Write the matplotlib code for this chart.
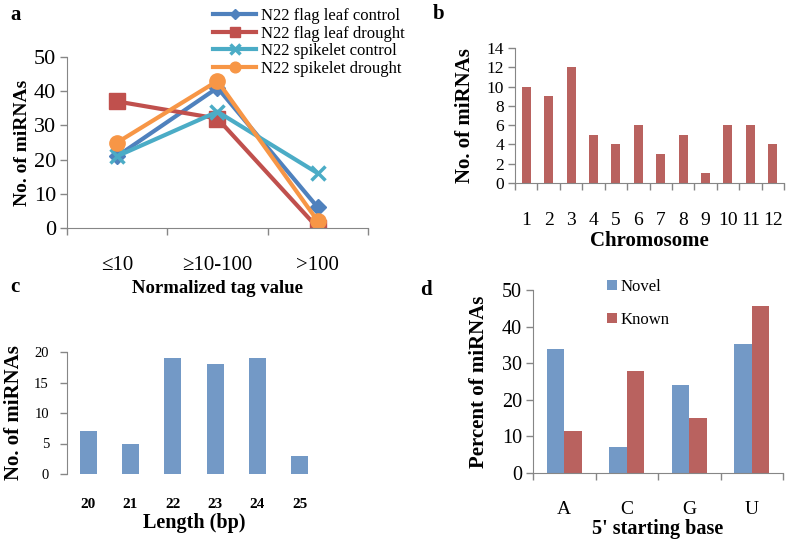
import numpy as np
import matplotlib
matplotlib.use('Agg')
import matplotlib.pyplot as plt

plt.rcParams['font.family'] = ['Liberation Serif', 'DejaVu Serif']

# panel a data
tag_bins = ['≤10', '≥10-100', '>100']
flag_control = [21, 41, 6]
flag_drought = [37, 32, 0]
spike_control = [21, 34, 16]
spike_drought = [25, 43, 2]

# panel b data
chromosomes = [str(i) for i in range(1, 13)]
chrom_counts = [10, 9, 12, 5, 4, 6, 3, 5, 1, 6, 6, 4]

# panel c data
lengths = ['20', '21', '22', '23', '24', '25']
length_counts = [7, 5, 19, 18, 19, 3]

# panel d data
bases = ['A', 'C', 'G', 'U']
novel_pct = [34, 7, 24, 35.2]
known_pct = [11.5, 28, 15, 45.6]

W, H = 787, 539
fig = plt.figure(figsize=(W / 100, H / 100), dpi=100)


def px_axes(left, right, top, bottom):
    return fig.add_axes([left / W, 1 - bottom / H, (right - left) / W, (bottom - top) / H])


grey = '#868686'


def style(ax, bottom=True):
    for s in ['top', 'right']:
        ax.spines[s].set_visible(False)
    ax.spines['left'].set_color(grey)
    ax.spines['bottom'].set_color(grey)
    ax.spines['bottom'].set_visible(bottom)
    ax.tick_params(axis='both', which='major', color=grey, length=5, width=1)
    ax.tick_params(axis='x', which='minor', length=0)


def between_ticks(ax, labels, size, weight='normal', pad=4):
    n = len(labels)
    ax.set_xlim(-0.5, n - 0.5)
    ax.set_xticks(np.arange(-0.5, n, 1.0))
    ax.set_xticklabels([])
    ax.set_xticks(np.arange(n), minor=True)
    ax.set_xticklabels(labels, minor=True, fontsize=size, fontweight=weight)
    ax.tick_params(axis='x', which='minor', pad=pad)


# ---- a ----
ax = px_axes(67, 368, 57, 228)
x = np.arange(len(tag_bins))
ax.plot(x, flag_control, color='#4F81BD', lw=3, marker='D', ms=8, label='N22 flag leaf control')
ax.plot(x, flag_drought, color='#C0504D', lw=3, marker='s', ms=11, label='N22 flag leaf drought')
ax.plot(x, spike_control, color='#4BACC6', lw=3, marker='x', ms=10, mew=2.5, label='N22 spikelet control')
ax.plot(x, spike_drought, color='#F79646', lw=3, marker='o', ms=11, label='N22 spikelet drought')
ax.set_ylim(0, 50)
ax.set_yticks(range(0, 51, 10))
ax.tick_params(axis='y', labelsize=16, pad=3)
style(ax)
between_ticks(ax, tag_bins, 15, pad=20)
ax.set_xlabel('Normalized tag value', fontsize=13.5, fontweight='bold', labelpad=4)
ax.set_ylabel('No. of miRNAs', fontsize=14, fontweight='bold', labelpad=2)
ax.legend(loc='upper left', bbox_to_anchor=(213 / W, 1 - 8 / H), bbox_transform=fig.transFigure,
          frameon=False, fontsize=12, handlelength=2.6, labelspacing=0.1, handletextpad=0.3,
          borderpad=0, borderaxespad=0, markerscale=0.7)
fig.text(10 / W, 1 - 15 / H, 'a', fontsize=15, fontweight='bold', va='center')

# ---- b ----
ax = px_axes(515, 784, 48, 183)
ax.bar(np.arange(len(chromosomes)), chrom_counts, width=0.4, color='#B9625F')
ax.set_ylim(0, 14)
ax.set_yticks(range(0, 15, 2))
ax.tick_params(axis='y', labelsize=12.5, pad=3)
style(ax)
between_ticks(ax, chromosomes, 14, pad=21)
ax.set_xlabel('Chromosome', fontsize=15, fontweight='bold', labelpad=1)
ax.set_ylabel('No. of miRNAs', fontsize=15, fontweight='bold', labelpad=8)
fig.text(433 / W, 1 - 14 / H, 'b', fontsize=15, fontweight='bold', va='center')

# ---- c ----
ax = px_axes(67, 321, 352, 474)
ax.bar(np.arange(len(lengths)), length_counts, width=0.4, color='#7399C6')
ax.set_ylim(0, 20)
ax.set_yticks(range(0, 21, 5))
ax.tick_params(axis='y', labelsize=10.5, pad=8)
style(ax, bottom=False)
ax.set_xlim(-0.5, len(lengths) - 0.5)
ax.set_xticks(np.arange(len(lengths)))
ax.set_xticklabels(lengths, fontsize=11, fontweight='bold')
ax.tick_params(axis='x', length=0, pad=17)
ax.set_xlabel('Length (bp)', fontsize=14.5, fontweight='bold', labelpad=2)
ax.set_ylabel('No. of miRNAs', fontsize=15, fontweight='bold', labelpad=7)
fig.text(10 / W, 1 - 287 / H, 'c', fontsize=15, fontweight='bold', va='center')

# ---- d ----
ax = px_axes(533, 783, 290, 473)
xb = np.arange(len(bases))
bw = 0.28
ax.bar(xb - bw / 2, novel_pct, width=bw, color='#7399C6', label='Novel')
ax.bar(xb + bw / 2, known_pct, width=bw, color='#B9625F', label='Known')
ax.set_ylim(0, 50)
ax.set_yticks(range(0, 51, 10))
ax.tick_params(axis='y', labelsize=14.5, pad=3)
style(ax)
between_ticks(ax, bases, 14, pad=20)
ax.set_xlabel('5\' starting base', fontsize=14.5, fontweight='bold', labelpad=1)
ax.set_ylabel('Percent of miRNAs', fontsize=15, fontweight='bold', labelpad=9)
ax.legend(loc='upper left', bbox_to_anchor=(607 / W, 1 - 279 / H), bbox_transform=fig.transFigure,
          frameon=False, fontsize=12, handlelength=0.6, handleheight=0.6, labelspacing=1.0,
          handletextpad=0.2, borderpad=0, borderaxespad=0)
fig.text(420 / W, 1 - 290 / H, 'd', fontsize=15, fontweight='bold', va='center')

fig.savefig('out.png', dpi=100)
